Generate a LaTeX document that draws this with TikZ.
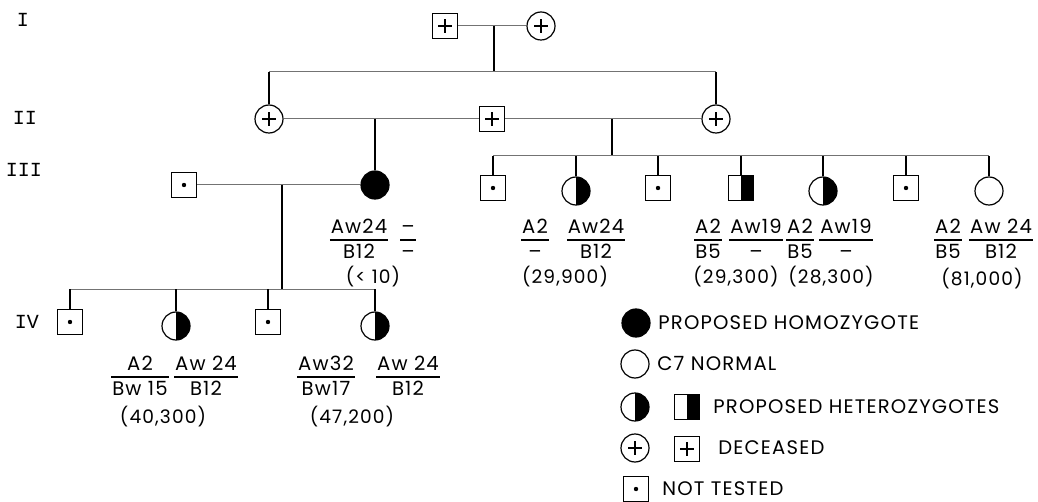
\documentclass[tikz,border=0pt]{standalone}
\usepackage{fontspec}
\setmainfont{Poppins}[LetterSpace=6]
\newfontfamily\genfont{Liberation Mono}
\setlength\arrayrulewidth{0.6pt}
\newcommand\haplo[2]{\begin{tabular}{@{\hspace{0.5pt}}c@{\hspace{0.5pt}}}#1\\[-1pt]\hline #2\end{tabular}}
\begin{document}
\begin{tikzpicture}[x=0.5pt,y=-0.5pt,
  font=\fontsize{9.8}{12.5}\selectfont,
  ind/.style={draw, line width=0.6pt, inner sep=0pt, fill=white},
  male/.style={ind, rectangle, minimum size=12.5pt},
  female/.style={ind, circle, minimum size=14pt},
  dead/.style={path picture={\draw[black, line width=1pt] (path picture bounding box.center) +(-3.3pt,0) -- +(3.3pt,0) (path picture bounding box.center) +(0,-3.3pt) -- +(0,3.3pt);}},
  untested/.style={path picture={\fill[black] (path picture bounding box.center) circle (1.1pt);}},
  hetero/.style={path picture={\fill[black] (path picture bounding box.north) rectangle (path picture bounding box.south east);}},
  homo/.style={fill=black},
  wed/.style={draw=black!55, line width=0.5pt},
  desc/.style={draw=black, line width=0.6pt},
  gen/.style={font=\genfont\fontsize{10}{12}\selectfont, inner sep=0pt},
  key/.style={anchor=west, inner sep=0pt},
  val/.style={inner sep=0pt, font=\fontsize{9.3}{12}\selectfont}]
\useasboundingbox (0,0) rectangle (1038,502);

\node[gen] (gI) at (23,20) {I};
\node[gen] (gII) at (25,118) {II};
\node[gen] (gIII) at (24,170) {III};
\node[gen] (gIV) at (27,322) {IV};

\node[male, dead] (I1) at (445,26) {};
\node[female, dead] (I2) at (541,26) {};

\node[female, dead] (II1) at (269,119) {};
\node[male, dead] (II2) at (492,119) {};
\node[female, dead] (II3) at (716,119) {};

\node[male, untested] (III1) at (184,185) {};
\node[female, homo] (III2) at (375,185) {};

\node[male, untested] (C1) at (493,188) {};
\node[female, hetero] (C2) at (576,191) {};
\node[male, untested] (C3) at (658,188) {};
\node[male, hetero] (C4) at (741,188) {};
\node[female, hetero] (C5) at (823,191) {};
\node[male, untested] (C6) at (906,188) {};
\node[female] (C7) at (989,191) {};

\node[male, untested] (IV1) at (70,322) {};
\node[female, hetero] (IV2) at (176,326) {};
\node[male, untested] (IV3) at (268,322) {};
\node[female, hetero] (IV4) at (375,326) {};

\coordinate (m1) at (494,26);
\coordinate (s1) at (494,72);
\coordinate (m2) at (375,119);
\coordinate (m3) at (612,119);
\coordinate (s3) at (612,156);
\coordinate (m4) at (282,185);
\coordinate (s4) at (282,289);

\draw[wed] (I1) -- (I2);
\draw[desc] (m1) -- (s1);
\draw[wed] (II1 |- s1) -- (II3 |- s1);
\draw[desc] (II1 |- s1) -- (II1);
\draw[desc] (II3 |- s1) -- (II3);

\draw[wed] (II1) -- (II2);
\draw[wed] (II2) -- (II3);
\draw[desc] (m2) -- (III2);
\draw[desc] (m3) -- (s3);
\draw[wed] (C1 |- s3) -- (C7 |- s3);
\foreach \c in {C1,C2,C3,C4,C5,C6,C7}
  \draw[desc] (\c |- s3) -- (\c);

\draw[wed] (III1) -- (III2);
\draw[desc] (m4) -- (s4);
\draw[wed] (IV1 |- s4) -- (IV4 |- s4);
\foreach \c in {IV1,IV2,IV3,IV4}
  \draw[desc] (\c |- s4) -- (\c);

\node (h2a) at (359,241) {\haplo{Aw24}{B12}};
\node (h2b) at (408,241) {\haplo{--}{--}};
\node[val] (v2) at (373,277) {(< 10)};

\node (hC2a) at (535,241) {\haplo{A2}{--}};
\node (hC2b) at (596,241) {\haplo{Aw24}{B12}};
\node[val] (vC2) at (565,277) {(29,900)};
\node (hC4a) at (708,241) {\haplo{A2}{B5}};
\node (hC4b) at (756,241) {\haplo{Aw19}{--}};
\node[val] (vC4) at (736,277) {(29,300)};
\node (hC5a) at (800,241) {\haplo{A2}{B5}};
\node (hC5b) at (846,241) {\haplo{Aw19}{--}};
\node[val] (vC5) at (831,277) {(28,300)};
\node (hC7a) at (948,241) {\haplo{A2}{B5}};
\node (hC7b) at (1001,241) {\haplo{Aw 24}{B12}};
\node[val] (vC7) at (982,279) {(81,000)};

\node (hIV2a) at (140,378) {\haplo{A2}{Bw 15}};
\node (hIV2b) at (206,378) {\haplo{Aw 24}{B12}};
\node[val] (vIV2) at (163,417) {(40,300)};
\node (hIV4a) at (326,378) {\haplo{Aw32}{Bw17}};
\node (hIV4b) at (408,378) {\haplo{Aw 24}{B12}};
\node[val] (vIV4) at (352,417) {(47,200)};

\node[female, homo] (k1) at (636,323) {};
\node[key] (t1) at (658,323) {PROPOSED HOMOZYGOTE};
\node[female] (k2) at (635,364) {};
\node[key] (t2) at (657,364) {C7 NORMAL};
\node[female, hetero] (k3a) at (635,407) {};
\node[male, hetero] (k3b) at (687,407) {};
\node[key] (t3) at (713,407) {PROPOSED HETEROZYGOTES};
\node[female, dead] (k4a) at (635,448) {};
\node[male, dead] (k4b) at (687,449) {};
\node[key] (t4) at (718,448) {DECEASED};
\node[male, untested] (k5) at (636,489) {};
\node[key] (t5) at (662,489) {NOT TESTED};
\end{tikzpicture}
\end{document}
